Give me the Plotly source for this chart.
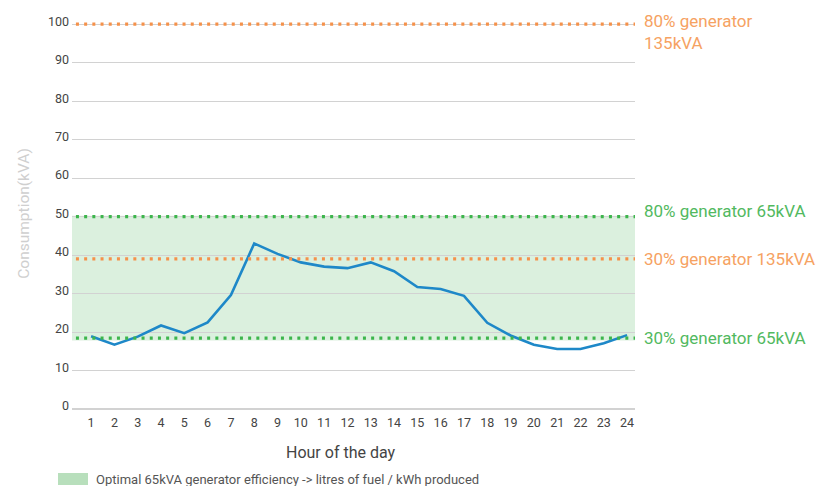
import plotly.graph_objects as go

# Hourly load profile (kVA)
hours = list(range(1, 25))
consumption = [18.9, 16.7, 18.8, 21.7, 19.7, 22.5, 29.6, 43.0, 40.3, 38.1, 37.0, 36.6,
               38.1, 35.8, 31.7, 31.2, 29.4, 22.4, 19.1, 16.7, 15.6, 15.6, 17.1, 19.2]

# Generator reference levels (kVA)
level_values = [100, 50, 39, 18.4]
level_labels = ["80% generator<br>135kVA", "80% generator 65kVA",
                "30% generator 135kVA", "30% generator 65kVA"]
level_kinds = ["orange", "green", "orange", "green"]
label_offsets = [-8, 6, 0, 0]

# Optimal efficiency band for the 65kVA unit
band_low, band_high = 17.8, 50.2
band_label = "Optimal 65kVA generator efficiency -> litres of fuel / kWh produced"

y_ticks = list(range(0, 101, 10))

ORANGE_DOT = "#f5914a"
ORANGE_TXT = "#f6a262"
GREEN_DOT = "#3db54c"
GREEN_TXT = "#52b95f"
LINE_BLUE = "#1e88c8"
BAND = "#dbf0de"
SWATCH = "#b8dfbc"
FONT = "Roboto"

fig = go.Figure()

fig.add_trace(go.Scatter(
    x=hours, y=consumption, mode="lines",
    line=dict(color=LINE_BLUE, width=2.6),
    showlegend=False, hoverinfo="x+y",
))

shapes = [
    dict(type="rect", xref="paper", yref="y", x0=0, x1=1, y0=band_low, y1=band_high,
         fillcolor=BAND, line=dict(width=0), layer="below"),
]
annotations = []
for val, lab, kind, off in zip(level_values, level_labels, level_kinds, label_offsets):
    dot = ORANGE_DOT if kind == "orange" else GREEN_DOT
    txt = ORANGE_TXT if kind == "orange" else GREEN_TXT
    shapes.append(dict(type="line", xref="paper", yref="y", x0=0.007, x1=1, y0=val, y1=val,
                       line=dict(color=dot, width=3.2, dash="3px,5.2px"), layer="above"))
    annotations.append(dict(
        xref="paper", yref="y", x=1.0, y=val, xanchor="left", yanchor="middle",
        xshift=7, yshift=off,
        text=lab, showarrow=False, align="left",
        font=dict(family=FONT, size=17, color=txt),
    ))

# Legend swatch and label under the chart
shapes.append(dict(type="rect", xref="paper", yref="paper",
                   x0=(58 - 72) / 563, x1=(88 - 72) / 563,
                   y0=-(473 - 409) / 391, y1=-(485 - 409) / 391,
                   fillcolor=SWATCH, line=dict(width=0)))
annotations.append(dict(
    xref="paper", yref="paper", x=(94 - 72) / 563, y=-(479 - 409) / 391,
    xanchor="left", yanchor="middle", text=band_label, showarrow=False,
    font=dict(family=FONT, size=13, color="#555555"),
))

# X axis title
annotations.append(dict(
    xref="paper", yref="paper", x=(341 - 72) / 563, y=-(452 - 409) / 391,
    xanchor="center", yanchor="middle", text="Hour of the day", showarrow=False,
    font=dict(family=FONT, size=16, color="#444444"),
))

fig.update_layout(
    width=823, height=486,
    margin=dict(l=72, r=188, t=18, b=77),
    paper_bgcolor="white", plot_bgcolor="white",
    font=dict(family=FONT, size=12, color="#555555"),
    shapes=shapes, annotations=annotations,
    showlegend=False,
    xaxis=dict(
        range=[0.18, 24.34], tickvals=hours, ticktext=[str(h) for h in hours],
        showgrid=False, zeroline=False, showline=False, ticks="",
        tickfont=dict(family=FONT, size=12.5, color="#444444"),
        ticklabelstandoff=4,
    ),
    yaxis=dict(
        range=[0, 101.6], tickvals=y_ticks,
        showgrid=True, gridcolor="#d2d2d2", gridwidth=1.3,
        zeroline=True, zerolinecolor="#d2d2d2", zerolinewidth=1.6,
        showline=False, ticks="",
        tickfont=dict(family=FONT, size=12.5, color="#444444"),
        ticklabelstandoff=2, ticklabelshift=-3,
        title=dict(text="Consumption(kVA)", standoff=14,
                   font=dict(family=FONT, size=15.5, color="#cfcfcf")),
    ),
)

fig.write_html("out.html")
